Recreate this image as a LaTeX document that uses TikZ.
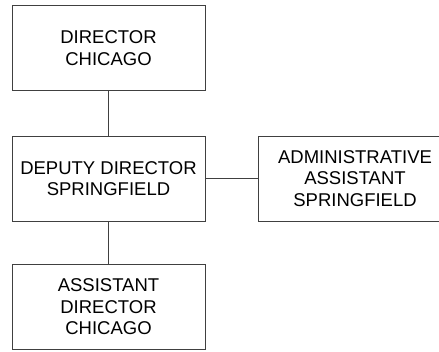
\documentclass[tikz,border=0pt]{standalone}
\usepackage{fontspec}
\setmainfont{Liberation Sans}
\usetikzlibrary{positioning}

\begin{document}
\begin{tikzpicture}[
    x = 1pt, y = -1pt,
    line width = 0.9pt,
    post/.style = {rectangle,
      draw = black!75,
      align = center,
      inner sep = 0pt,
      font = \fontsize{18.5}{21.5}\selectfont,
      minimum width = 193pt,
      minimum height = 85pt}
    ]
    \clip (0, 0) rectangle (439, 352);
    \node at (108.5, 48) [post, name = dir] {DIRECTOR\\CHICAGO};
    \node at (108.5, 178.5) [post, name = deputy] {DEPUTY DIRECTOR\\SPRINGFIELD};
    \node at (355, 178.5) [post, name = admin] {ADMINISTRATIVE\\ASSISTANT\\SPRINGFIELD};
    \node at (108.5, 307) [post, name = asst] {ASSISTANT\\DIRECTOR\\CHICAGO};

    \draw [black!75] (dir) to (deputy);
    \draw [black!75] (deputy) to (admin);
    \draw [black!75] (deputy) to (asst);

  \end{tikzpicture}
\end{document}
